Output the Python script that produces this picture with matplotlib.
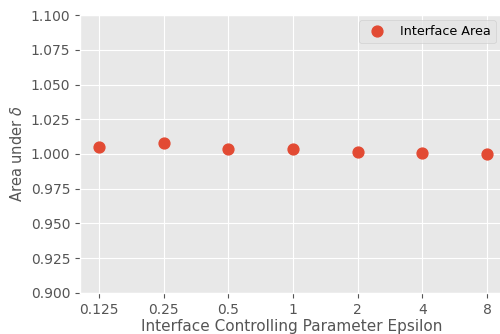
import matplotlib
matplotlib.use("Agg")
import matplotlib.pyplot as plt
import numpy as np

# epsilon values tested and the integrated area under delta for each
epsilon_labels = ['0.125', '0.25', '0.5', '1', '2', '4', '8']
area = [1.0053, 1.0076, 1.0038, 1.0038, 1.0014, 1.0005, 1.0000]

plt.style.use('ggplot')

fig = plt.figure(figsize=(5.0, 3.34), dpi=100)
# axes runs slightly past the right edge of the canvas
ax = fig.add_axes([0.16, 0.123, 0.848, 0.832])
ax.set_facecolor('#E8E8E8')

x = np.arange(len(epsilon_labels))
ax.plot(x, area, 'o', color='#E24A33', markersize=7.8, label='Interface Area')

ax.set_xticks(x)
ax.set_xticklabels(epsilon_labels)
ax.set_xlim(-0.295, 6.262)
ax.set_ylim(0.9, 1.1)
ax.set_yticks(np.arange(0.9, 1.1001, 0.025))
ax.yaxis.set_major_formatter(matplotlib.ticker.FormatStrFormatter('%.3f'))
ax.tick_params(labelsize=10)

ax.set_xlabel('Interface Controlling Parameter Epsilon', fontsize=11, labelpad=1.5)
ax.set_ylabel(r'Area under $\delta$', fontsize=10.5)
ax.legend(loc='upper right', bbox_to_anchor=(0.993, 1.0), fontsize=9.2, borderaxespad=0.4)

fig.savefig('out.png', dpi=100)
